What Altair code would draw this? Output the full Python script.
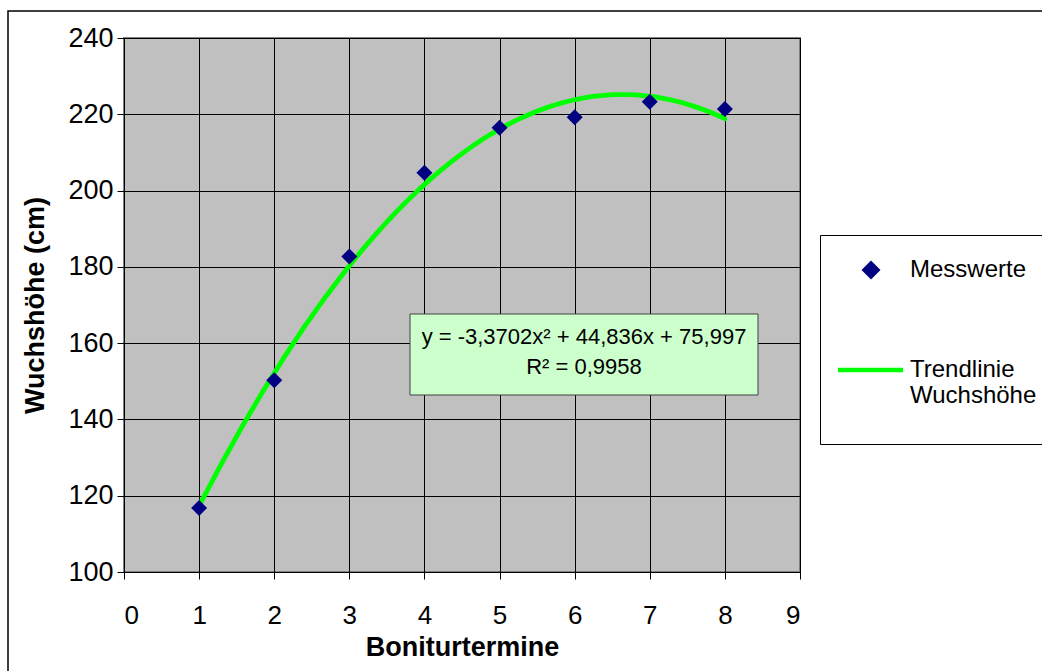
import altair as alt
import pandas as pd

# ---- data ----
termine = [1, 2, 3, 4, 5, 6, 7, 8]
wuchshoehe = [116.8, 150.3, 182.7, 204.7, 216.5, 219.2, 223.3, 221.4]
serie_punkte = "Messwerte"
serie_trend = "Trendlinie Wuchshöhe"
x_ticks = [0, 1, 2, 3, 4, 5, 6, 7, 8, 9]
y_ticks = [100, 120, 140, 160, 180, 200, 220, 240]
gleichung = ["y = -3,3702x² + 44,836x + 75,997", "R² = 0,9958"]

df = pd.DataFrame({"termin": termine, "hoehe": wuchshoehe, "serie": serie_punkte})

FONT = "Liberation Sans"
PLOT_W, PLOT_H = 676, 534
PAD_L, PAD_T = 124, 38

# legend symbol paths (unit = 25 px), shifted right inside the symbol column
LEG_DIAMOND = "M0.64,-0.38L1.02,0L0.64,0.38L0.26,0Z"
LEG_BAR = "M-0.68,-0.09L1.92,-0.09L1.92,0.09L-0.68,0.09Z"
PLOT_DIAMOND = "M0,-1L1,0L0,1L-1,0Z"

legend = alt.Legend(
    title=None, orient="none", legendX=696, legendY=197,
    padding=10, strokeColor="#000000", fillColor="#ffffff",
    labelFont=FONT, labelFontSize=24, labelColor="#000000",
    symbolSize=2500, symbolStrokeWidth=0, symbolOpacity=1,
    labelOffset=30, rowPadding=63, labelLimit=0,
    labelExpr="datum.label == 'Trendlinie Wuchshöhe' ? ['Trendlinie', 'Wuchshöhe', ' '] : datum.label",
)

color = alt.Color("serie:N",
                  scale=alt.Scale(domain=[serie_punkte, serie_trend], range=["#000080", "#00FF00"]),
                  legend=legend)
shape = alt.Shape("serie:N",
                  scale=alt.Scale(domain=[serie_punkte, serie_trend], range=[LEG_DIAMOND, LEG_BAR]),
                  legend=legend)

x_enc = alt.X("termin:Q", scale=alt.Scale(domain=[0, 9], nice=False, zero=False),
              axis=alt.Axis(values=x_ticks, title="Boniturtermine", format="d"))
y_enc = alt.Y("hoehe:Q", scale=alt.Scale(domain=[100, 240], nice=False, zero=False),
              axis=alt.Axis(values=y_ticks, title="Wuchshöhe (cm)", format="d"))

# invisible layer that only feeds the legend's symbol shapes
legend_feed = alt.Chart(df).mark_point(filled=True, opacity=0, size=2500, strokeWidth=0).encode(
    x=x_enc, y=y_enc, color=color, shape=shape)

punkte = alt.Chart(df).mark_point(filled=True, size=256, opacity=1, strokeWidth=0).encode(
    x=x_enc, y=y_enc, color=color, shape=alt.value(PLOT_DIAMOND))

trend = (alt.Chart(df)
         .transform_regression("termin", "hoehe", method="poly", order=2)
         .transform_calculate(serie=f"'{serie_trend}'")
         .mark_line(strokeWidth=4.8, strokeCap="round", strokeJoin="round")
         .encode(x="termin:Q", y="hoehe:Q", color=color))

box_df = pd.DataFrame({"txt": ["\n".join(gleichung)]})
box = alt.Chart(box_df).mark_rect(fill="#CCFFCC", stroke="#404040", strokeWidth=1).encode(
    x=alt.value(286), x2=alt.value(634), y=alt.value(276), y2=alt.value(357))
box_text = alt.Chart(box_df).mark_text(
    font=FONT, fontSize=22, color="#000000", lineBreak="\n", lineHeight=30,
    align="center", baseline="middle").encode(
    x=alt.value(460), y=alt.value(299), text="txt:N")

frame = alt.Chart(box_df).mark_rect(fill=None, stroke="#000000", strokeWidth=1.5).encode(
    x=alt.value(8 - PAD_L), y=alt.value(11 - PAD_T), x2=alt.value(1042 - PAD_L + 20),
    y2=alt.value(671 - PAD_T + 20))

chart = (alt.layer(frame, legend_feed, trend, punkte, box, box_text)
         .properties(width=PLOT_W, height=PLOT_H,
                     autosize=alt.AutoSizeParams(type="none"),
                     padding={"left": PAD_L, "top": PAD_T, "right": 1042 - PAD_L - PLOT_W,
                              "bottom": 671 - PAD_T - PLOT_H},
                     background="#ffffff")
         .configure_view(fill="#C0C0C0", stroke="#808080", strokeWidth=2)
         .configure_axis(
             grid=True, gridColor="#000000", gridWidth=1, gridOpacity=1,
             domainColor="#000000", domainWidth=1,
             tickColor="#000000", tickSize=7, tickWidth=1,
             labelFont=FONT, labelColor="#000000",
             titleFont=FONT, titleFontSize=27, titleFontWeight="bold", titleColor="#000000")
         .configure_axisX(labelFontSize=26, labelPadding=23, titlePadding=6)
         .configure_axisY(labelFontSize=27, labelPadding=4, titlePadding=18))

chart.save("out.html", embed_options={"renderer": "svg", "actions": False})
